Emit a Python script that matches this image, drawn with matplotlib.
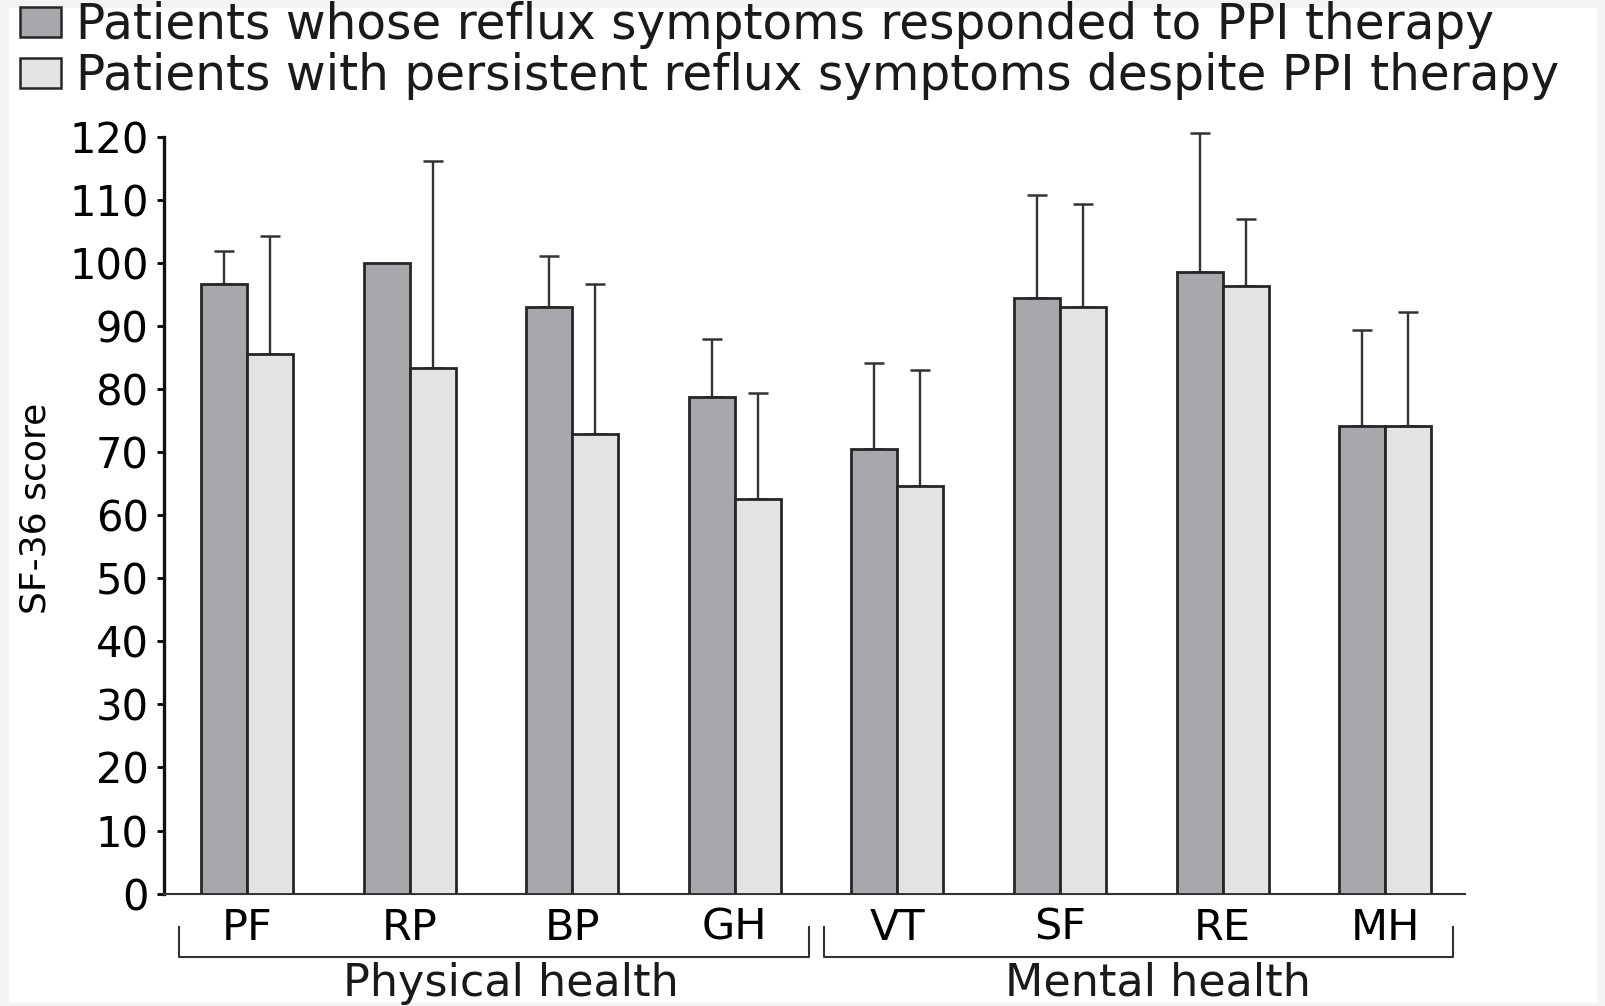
import numpy as np
import matplotlib
matplotlib.use('agg')
import matplotlib.pyplot as plt
from matplotlib.patches import Patch, Rectangle

plt.rcParams.update({
    "font.family": "DejaVu Sans",
    "text.color": "#1a1a1a",
})

# SF-36 domains
domains = ["PF", "RP", "BP", "GH", "VT", "SF", "RE", "MH"]
groups = ["Physical health", "Mental health"]
# responders (dark bars) and persistent symptoms (light bars), mean and SD
resp_mean = [96.6, 100.0, 93.0, 78.8, 70.5, 94.5, 98.6, 74.1]
resp_sd = [5.3, 0.0, 8.1, 9.2, 13.6, 16.3, 22.0, 15.3]
pers_mean = [85.6, 83.3, 72.9, 62.5, 64.6, 93.0, 96.3, 74.1]
pers_sd = [18.7, 32.8, 23.7, 16.9, 18.4, 16.3, 10.6, 18.1]
labels = ["Patients whose reflux symptoms responded to PPI therapy",
          "Patients with persistent reflux symptoms despite PPI therapy"]

dark = "#a7a8ac"
light = "#e3e3e3"
edge = "#262626"

fig = plt.figure(figsize=(16.06, 10.06), dpi=100)
fig.patch.set_facecolor("#f3f3f3")
# white page area inside the grey border
fig.patches.append(Rectangle((9/1606, 3/1006), 1588/1606, 995/1006,
                             transform=fig.transFigure, facecolor="white",
                             edgecolor="none", zorder=-10))
ax = fig.add_axes([164/1606, 1-893.6/1006, 1301/1606, 756.9/1006])
ax.set_facecolor("none")

x = np.arange(len(domains))
w = 0.283
ax.bar(x - w/2, resp_mean, w, color=dark, edgecolor=edge, linewidth=2.0, zorder=3)
ax.bar(x + w/2, pers_mean, w, color=light, edgecolor=edge, linewidth=2.0, zorder=3)

for xs, m, sd in [(x - w/2, resp_mean, resp_sd), (x + w/2, pers_mean, pers_sd)]:
    m = np.array(m)
    sd = np.array(sd)
    keep = sd > 0
    eb = ax.errorbar(xs[keep], m[keep], yerr=[np.zeros(keep.sum()), sd[keep]],
                     fmt="none", ecolor="#333333", elinewidth=1.7, capsize=7.5,
                     capthick=1.8, zorder=2)
    for art in eb.lines[1] + eb.lines[2]:
        art.set_clip_on(False)

ax.set_xlim(-0.51, 7.49)
ax.set_ylim(0, 120)
ax.set_yticks(np.arange(0, 121, 10))
ax.set_xticks(x)
ax.set_xticklabels(domains, fontsize=31)
ax.tick_params(axis="x", length=0, pad=9.5)
ax.tick_params(axis="y", labelsize=30, length=5, width=2, pad=6, direction="out")

for s in ["top", "right"]:
    ax.spines[s].set_visible(False)
ax.spines["left"].set_linewidth(2.4)
ax.spines["left"].set_color("#111111")
ax.spines["bottom"].set_linewidth(1.5)
ax.spines["bottom"].set_color("#333333")

ax.set_ylabel("SF-36 score", fontsize=26)
ax.yaxis.set_label_coords(-0.086, 0.509)

# group brackets below the domain labels
brackets = [(-0.418, 3.456), (3.549, 7.417)]
centers = [1.62, 5.60]
for (a, b), c, g in zip(brackets, centers, groups):
    ax.plot([a, a, b, b], [-5.3, -10.1, -10.1, -5.3], color="#333333",
            linewidth=1.5, clip_on=False)
    ax.text(c, -16.2, g, ha="center", va="baseline", fontsize=32)

handles = [Patch(facecolor=dark, edgecolor=edge, linewidth=1.8),
           Patch(facecolor=light, edgecolor=edge, linewidth=1.8)]
fig.legend(handles, labels, loc="upper left", bbox_to_anchor=(20/1606, 1 - 1/1006),
           bbox_transform=fig.transFigure, frameon=False, fontsize=35,
           handlelength=0.85, handleheight=0.58, handletextpad=0.3,
           labelspacing=0.07, borderpad=0.0, borderaxespad=0.0)

plt.savefig("out.png", dpi=100)
